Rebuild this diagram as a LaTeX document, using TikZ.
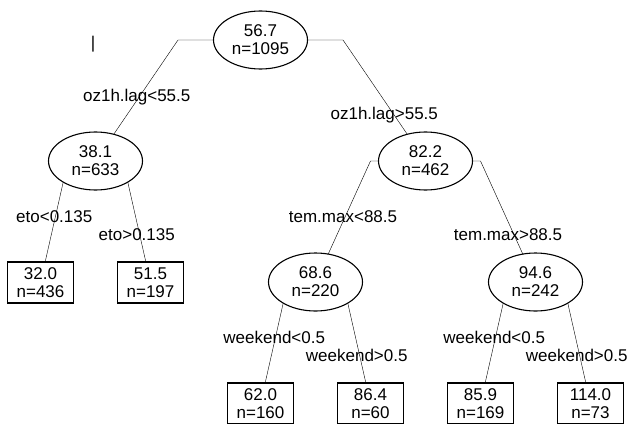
\documentclass[tikz,border=0pt]{standalone}
\usepackage{fontspec}
\setmainfont{Liberation Sans}
\usetikzlibrary{shapes.geometric,backgrounds}
\begin{document}
\begin{tikzpicture}[x=1pt,y=-1pt,line width=1.1pt,
    every node/.style={font=\fontsize{17}{18}\selectfont},
    split/.style={ellipse,draw,fill=white,minimum width=94pt,minimum height=58pt,inner sep=0pt,align=center},
    leaf/.style={draw,fill=white,minimum width=66pt,minimum height=41pt,inner sep=0pt,align=center},
    lftlab/.style={anchor=base,yshift=-1pt},
    rgtlab/.style={anchor=base,yshift=-18.5pt}]
      \useasboundingbox (0,0) rectangle (628,423);
      % Place the split nodes
      \node[split] (root) at (260.5,40) {56.7\\n=1095};
      \node[split] (n38) at (95.5,161) {38.1\\n=633};
      \node[split] (n82) at (425.5,161) {82.2\\n=462};
      \node[split] (n68) at (315.5,282) {68.6\\n=220};
      \node[split] (n94) at (535.5,282) {94.6\\n=242};
      % Place the leaves
      \node[leaf] (l32) at (40.5,282.5) {32.0\\n=436};
      \node[leaf] (l51) at (150.5,282.5) {51.5\\n=197};
      \node[leaf] (l62) at (260.5,403.5) {62.0\\n=160};
      \node[leaf] (l86) at (370.5,403.5) {86.4\\n=60};
      \node[leaf] (l85) at (480.5,403.5) {85.9\\n=169};
      \node[leaf] (l114) at (590.5,403.5) {114.0\\n=73};
      \node (bar) at (93,44.5) {|};
      % Branch points
      \coordinate (b1l) at (178,40);
      \coordinate (b1r) at (343,40);
      \coordinate (b2l) at (68,161);
      \coordinate (b2r) at (123,161);
      \coordinate (b3l) at (370.5,161);
      \coordinate (b3r) at (480.5,161);
      \coordinate (b4l) at (288,282);
      \coordinate (b4r) at (343,282);
      \coordinate (b5l) at (508,282);
      \coordinate (b5r) at (563,282);
      % Draw the branches behind the nodes
      \begin{scope}[on background layer]
        \draw (root.center) -- (b1l) -- node[lftlab] {oz1h.lag<55.5} (n38.center);
        \draw (root.center) -- (b1r) -- node[rgtlab] {oz1h.lag>55.5} (n82.center);
        \draw (n38.center) -- (b2l) -- node[lftlab] {eto<0.135} (l32.center);
        \draw (n38.center) -- (b2r) -- node[rgtlab] {eto>0.135} (l51.center);
        \draw (n82.center) -- (b3l) -- node[lftlab] {tem.max<88.5} (n68.center);
        \draw (n82.center) -- (b3r) -- node[rgtlab] {tem.max>88.5} (n94.center);
        \draw (n68.center) -- (b4l) -- node[lftlab] {weekend<0.5} (l62.center);
        \draw (n68.center) -- (b4r) -- node[rgtlab] {weekend>0.5} (l86.center);
        \draw (n94.center) -- (b5l) -- node[lftlab] {weekend<0.5} (l85.center);
        \draw (n94.center) -- (b5r) -- node[rgtlab] {weekend>0.5} (l114.center);
      \end{scope}
    \end{tikzpicture}
\end{document}
